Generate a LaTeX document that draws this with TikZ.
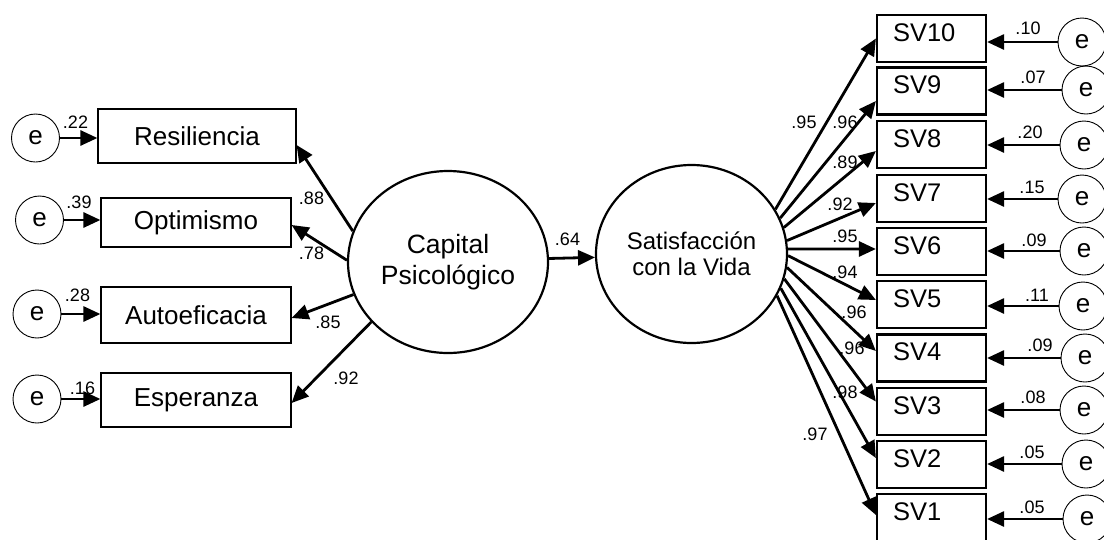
\documentclass[tikz,border=0pt]{standalone}
\usepackage{fontspec}
\setmainfont{Liberation Sans}
\usetikzlibrary{arrows.meta,shapes.geometric}

\begin{document}
\begin{tikzpicture}[x=1pt,y=-1pt,
  every node/.style={inner sep=0pt},
  coef/.style={font=\fontsize{18}{20}\selectfont},
  errc/.style={circle, draw, line width=0.9pt, minimum size=48pt, font=\fontsize{26}{28}\selectfont},
  indbox/.style={rectangle, draw, line width=1.2pt, font=\fontsize{26}{28}\selectfont},
  svbox/.style={rectangle, draw, line width=2.2pt, minimum width=109pt, minimum height=47pt,
    text width=77pt, align=left, text height=18pt, text depth=13pt, font=\fontsize{25.5}{28}\selectfont},
  latent/.style={ellipse, draw, line width=2.2pt, align=center},
  load/.style={line width=2.8pt, -{Triangle[length=17pt,width=15pt]}},
]
\useasboundingbox (0,0) rectangle (1104,539);

% latent variables
\node[latent, minimum width=200pt, minimum height=182pt, font=\fontsize{26.5}{31}\selectfont]
  (cap) at (448,262) {Capital\\Psicológico};
\node[latent, minimum width=191pt, minimum height=178pt, font=\fontsize{24}{26}\selectfont]
  (sat) at (691.5,254) {Satisfacción\\con la Vida};

% indicators of Capital Psicologico
\node[indbox, minimum width=198pt, minimum height=54pt] (res) at (197,136) {Resiliencia};
\node[indbox, minimum width=190pt, minimum height=49pt] (opt) at (196,222.5) {Optimismo};
\node[indbox, minimum width=190pt, minimum height=56pt] (aut) at (196,315) {Autoeficacia};
\node[indbox, minimum width=190pt, minimum height=54pt] (esp) at (196,400) {Esperanza};

% their error terms
\node[errc] (eres) at (35.5,138) {e};
\node[errc] (eopt) at (39.5,220) {e};
\node[errc] (eaut) at (37,314) {e};
\node[errc] (eesp) at (37,399) {e};

\draw[load] (eres) -- (res.west |- eres);
\draw[load] (eopt) -- (opt.west |- eopt);
\draw[load] (eaut) -- (aut.west |- eaut);
\draw[load] (eesp) -- (esp.west |- eesp);

\node[coef] (vres) at (75.5,122) {.22};
\node[coef] (vopt) at (79,202) {.39};
\node[coef] (vaut) at (77.5,295) {.28};
\node[coef] (vesp) at (82.5,388) {.16};

% loadings of Capital Psicologico
\draw[load] (cap.162.3) -- ([yshift=-9pt]res.east);
\draw[load] (cap.179) -- ([yshift=-2.5pt]opt.east);
\draw[load] (cap.199.7) -- ([yshift=-3pt]aut.east);
\draw[load] (cap.218.7) -- ([yshift=-3pt]esp.east);

\node[coef] (lres) at (311.5,198) {.88};
\node[coef] (lopt) at (311.5,253) {.78};
\node[coef] (laut) at (328,322) {.85};
\node[coef] (lesp) at (346,378) {.92};

% structural path
\draw[load] (cap.2.5) -- (sat.182.6);
\node[coef] (lsat) at (567.5,239) {.64};

% items of Satisfaccion con la Vida
\foreach \i/\y in {10/38.5, 9/91, 8/144.5, 7/198.5, 6/251.5, 5/304.5, 4/358, 3/411.5, 2/464.5, 1/517.5}
  \node[svbox] (sv\i) at (931.5,\y) {SV\i};

% their error terms
\foreach \i/\x/\y in {10/1082/42, 9/1086/90, 8/1084/145, 7/1082/199, 6/1084/251,
                      5/1083/306, 4/1085/358, 3/1084/410, 2/1086/464, 1/1087/519}
{
  \node[errc] (esv\i) at (\x,\y) {e};
  \draw[load] (esv\i) -- (sv\i.east |- esv\i);
}

\foreach \i/\x/\y/\v in {10/1028/28/.10, 9/1033/77/.07, 8/1030/132/.20, 7/1032/187/.15,
                         6/1034/240/.09, 5/1037/295/.11, 4/1040/345/.09, 3/1033/397/.08,
                         2/1032/452/.05, 1/1032/507/.05}
  \node[coef] (vsv\i) at (\x,\y) {\v};

% loadings of Satisfaccion con la Vida
\foreach \i/\a/\s in {10/28.3/0, 9/22.5/-10, 8/16.3/-6.5, 7/8.3/-4.5, 6/3/2.5,
                      5/-1.8/4.5, 4/-8.3/7, 3/-15.9/10, 2/-21/6.5, 1/-26.7/2.5}
  \draw[load] (sat.\a) -- ([yshift=\s pt]sv\i.west);

\foreach \i/\x/\y/\v in {10/804/122/.95, 9/845/122/.96, 8/845/162/.89, 7/840/204/.92,
                         6/845/236/.95, 5/845/272/.94, 4/854/312/.96, 3/852/348/.96,
                         2/845/392/.98, 1/815/434/.97}
  \node[coef] (lsv\i) at (\x,\y) {\v};
\end{tikzpicture}
\end{document}
